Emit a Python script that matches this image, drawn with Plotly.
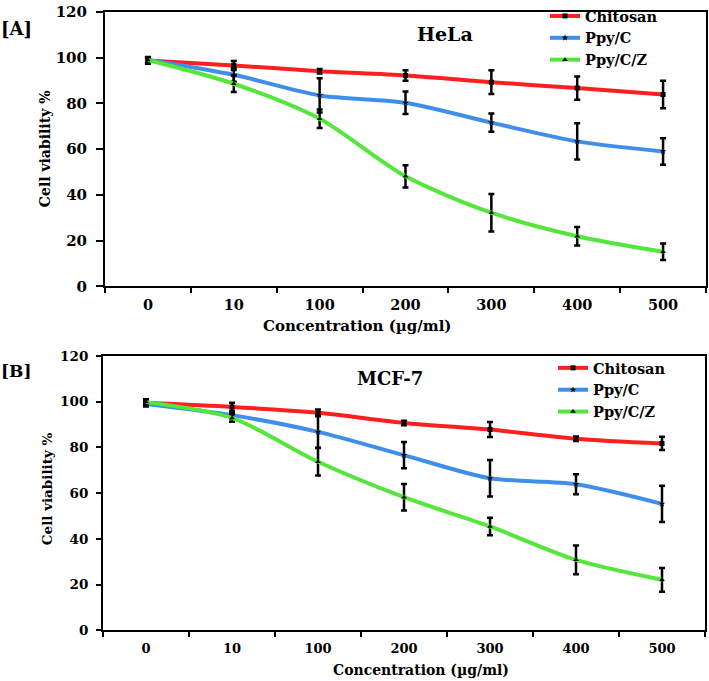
import plotly.graph_objects as go

W, H = 709, 681

categories = ["0", "10", "100", "200", "300", "400", "500"]
series_names = ["Chitosan", "Ppy/C", "Ppy/C/Z"]

hela_chitosan = [98.8, 96.6, 94.1, 92.2, 89.3, 86.7, 83.9]
hela_chitosan_err = [1.5, 2.0, 1.0, 2.3, 5.2, 5.1, 6.0]
hela_ppyc = [99.0, 92.5, 83.5, 80.3, 71.6, 63.4, 59.0]
hela_ppyc_err = [1.0, 3.0, 7.5, 4.9, 4.0, 7.9, 5.8]
hela_ppycz = [99.0, 88.6, 73.3, 48.1, 32.2, 21.9, 15.1]
hela_ppycz_err = [1.0, 3.6, 4.0, 4.9, 8.2, 4.0, 3.6]

mcf_chitosan = [99.5, 97.7, 95.1, 90.7, 87.8, 83.8, 81.7]
mcf_chitosan_err = [1.5, 1.8, 1.5, 1.0, 3.3, 1.0, 2.9]
mcf_ppyc = [99.0, 94.1, 86.8, 76.6, 66.5, 63.9, 55.3]
mcf_ppyc_err = [1.0, 1.5, 7.0, 5.7, 8.0, 4.4, 7.9]
mcf_ppycz = [99.8, 92.9, 73.7, 58.2, 45.4, 30.8, 22.1]
mcf_ppycz_err = [1.0, 1.7, 6.0, 5.8, 3.8, 6.3, 5.2]

colors = ["#FF1F1F", "#3F8FEA", "#55E63C"]
symbols = ["square", "star", "triangle-up"]
FONT = "DejaVu Serif"

fig = go.Figure()

panels = [
    ("x", "y", "legend", [hela_chitosan, hela_ppyc, hela_ppycz],
     [hela_chitosan_err, hela_ppyc_err, hela_ppycz_err]),
    ("x2", "y2", "legend2", [mcf_chitosan, mcf_ppyc, mcf_ppycz],
     [mcf_chitosan_err, mcf_ppyc_err, mcf_ppycz_err]),
]

for xa, ya, lg, vals, errs in panels:
    for name, v, e, c, s in zip(series_names, vals, errs, colors, symbols):
        fig.add_trace(go.Scatter(
            x=categories, y=v, name=name, mode="lines+markers",
            xaxis=xa, yaxis=ya, legend=lg,
            line=dict(color=c, width=4, shape="spline", smoothing=0.8),
            marker=dict(color="black", size=5, symbol=s),
            error_y=dict(type="data", array=e, visible=True,
                         color="black", thickness=2.5, width=3),
        ))

def px(x):
    return x / W

def py(y):
    return (H - y) / H

axis_common = dict(showline=True, linecolor="black", linewidth=2, mirror=True,
                   showgrid=False, zeroline=False, ticks="outside",
                   tickcolor="black", automargin=False)

fig.update_layout(
    template="none",
    width=W, height=H, margin=dict(l=0, r=0, t=0, b=0, pad=0),
    paper_bgcolor="white", plot_bgcolor="white",
    font=dict(family=FONT, color="black", weight="bold"),
    xaxis=dict(domain=[px(105), px(706)], anchor="y", type="category",
               categoryorder="array", categoryarray=categories,
               range=[-0.5, 6.5], tickson="boundaries", ticklen=5, tickwidth=1.5,
               ticklabelstandoff=4,
               tickfont=dict(size=14.5, family=FONT, weight="bold"), **axis_common),
    yaxis=dict(domain=[py(284), py(8)], anchor="x", range=[0, 120], dtick=20,
               ticklen=7, tickwidth=2, ticklabelstandoff=6,
               tickfont=dict(size=15, family=FONT, weight="bold"), **axis_common),
    xaxis2=dict(domain=[px(103), px(705)], anchor="y2", type="category",
                categoryorder="array", categoryarray=categories,
                range=[-0.5, 6.5], tickson="boundaries", ticklen=5, tickwidth=1.5,
                ticklabelstandoff=5,
                tickfont=dict(size=13, family=FONT, weight="bold"), **axis_common),
    yaxis2=dict(domain=[py(630), py(354)], anchor="x2", range=[0, 120], dtick=20,
                ticklen=5, tickwidth=2, ticklabelstandoff=5,
                tickfont=dict(size=13.5, family=FONT, weight="bold"), **axis_common),
    legend=dict(x=px(545), y=py(-4), xanchor="left", yanchor="top",
                bgcolor="rgba(0,0,0,0)", borderwidth=0,
                font=dict(size=14.5, family=FONT, weight="bold"),
                tracegroupgap=0, itemwidth=30),
    legend2=dict(x=px(553), y=py(350), xanchor="left", yanchor="top",
                 bgcolor="rgba(0,0,0,0)", borderwidth=0,
                 font=dict(size=14.5, family=FONT, weight="bold"),
                 tracegroupgap=0, itemwidth=30),
    showlegend=True,
)

def ann(text, x, y, size, angle=0):
    fig.add_annotation(text=text, x=px(x), y=py(y), xref="paper", yref="paper",
                       showarrow=False, textangle=angle, xanchor="center",
                       yanchor="middle",
                       font=dict(size=size, family=FONT, color="black", weight="bold"))

ann("[A]", 16, 25, 18)
ann("[B]", 16, 369, 17)
ann("HeLa", 445, 30, 19)
ann("MCF-7", 390, 377, 18)
ann("Cell viability %", 45, 146, 14, -90)
ann("Cell viability %", 47, 487, 13.5, -90)
ann("Concentration (µg/ml)", 357, 324, 15)
ann("Concentration (µg/ml)", 421, 670, 14)

fig.write_html("out.html")
